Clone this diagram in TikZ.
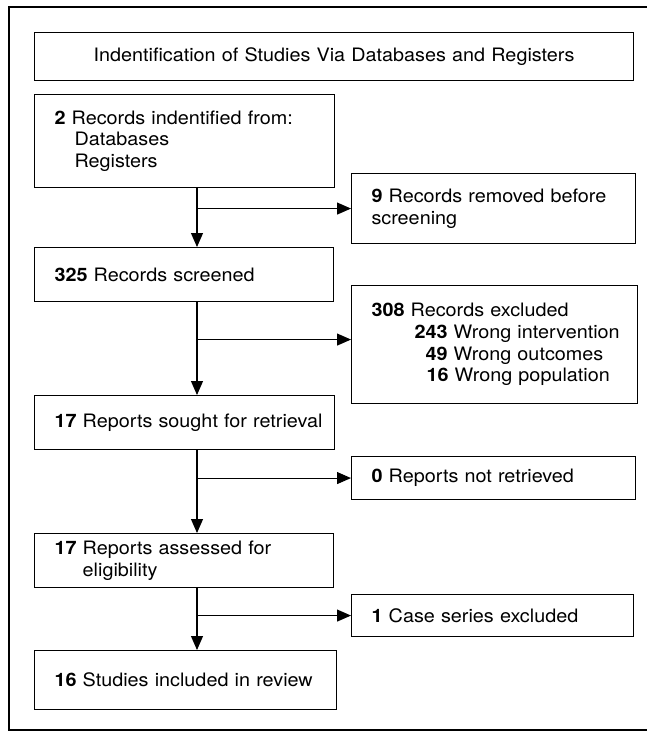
\documentclass[tikz,border=0pt]{standalone}
\usepackage{fontspec}
\setmainfont{TeX Gyre Heros}[FakeStretch=1.07]
\usetikzlibrary{arrows.meta}

\tikzset{
  box/.style={draw, line width=1.1pt, anchor=north west,
    inner xsep=4pt, inner ysep=0pt, font=\fontsize{18.5}{21.7}\selectfont},
  textbox/.style={box, align=left, execute at begin node={\leftskip=16pt\relax}},
  boxsize/.style 2 args={minimum width=#1pt, minimum height=#2pt, text width=#1pt-8pt},
}

\begin{document}
\begin{tikzpicture}[x=1pt, y=-1pt, >={Triangle[length=14pt,width=12pt]}, line width=1.1pt]

\useasboundingbox (0,0) rectangle (647,732);

% Outer frame
\draw[line width=1.6pt] (9,7) rectangle (662,730);

% Title
\node[box, boxsize={599}{48}, align=center] (title) at (34,32)
  {Indentification of Studies Via Databases and Registers};

% Left column
\node[textbox, boxsize={300}{93}] (rec) at (34,94)
  {\textbf{2} Records indentified from:\\\hspace*{20pt}Databases\\\hspace*{20pt}Registers};
\node[textbox, boxsize={299}{54}] (scr) at (34,247) {\textbf{325} Records screened};
\node[textbox, boxsize={300}{54}] (sou) at (34,395) {\textbf{17} Reports sought for retrieval};
\node[textbox, boxsize={299}{54}] (ass) at (34,533)
  {\textbf{17} Reports assessed for\\\phantom{\textbf{17}\ }eligibility};
\node[textbox, boxsize={302}{59}] (inc) at (34,650) {\textbf{16} Studies included in review};

% Right column
\node[textbox, boxsize={284}{70}] (rem) at (351,173) {\textbf{9} Records removed before\\screening};
\node[textbox, boxsize={286}{118}] (exc) at (351,285)
  {\textbf{308} Records excluded\\
   \hspace*{43pt}\textbf{243} Wrong intervention\\
   \hspace*{54pt}\textbf{49} Wrong outcomes\\
   \hspace*{55pt}\textbf{16} Wrong population};
\node[textbox, boxsize={284}{43}] (nrt) at (351,456) {\textbf{0} Reports not retrieved};
\node[textbox, boxsize={282}{42}] (cas) at (351,594) {\textbf{1} Case series excluded};

% Arrows
\coordinate (spine) at (197,0);
\coordinate (j2) at ([yshift=5pt]exc.west);
\draw[->] (spine |- rec.south) -- (spine |- scr.north);
\draw[->] (spine |- scr.south) -- (spine |- sou.north);
\draw[->] (spine |- sou.south) -- (spine |- ass.north);
\draw[->] (spine |- ass.south) -- (spine |- inc.north);
\draw[->] (spine |- rem.west) -- (rem.west);
\draw[->] (spine |- j2) -- (j2);
\draw[->] (spine |- nrt.west) -- (nrt.west);
\draw[->] (spine |- cas.west) -- (cas.west);

\end{tikzpicture}
\end{document}
